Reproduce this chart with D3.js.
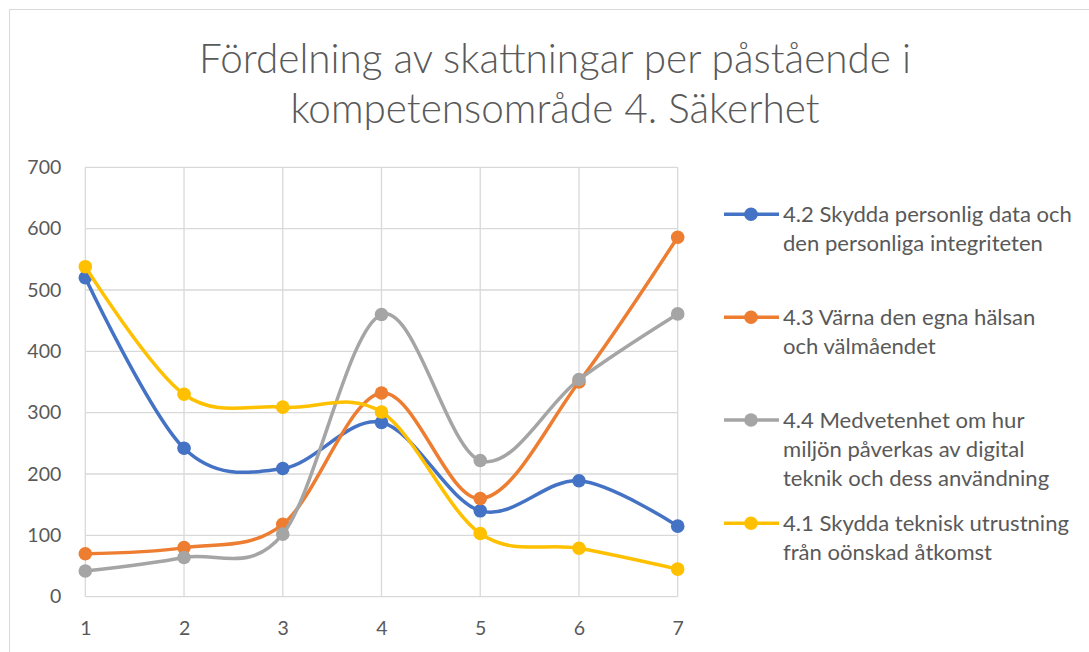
<!DOCTYPE html>
<html><head><meta charset="utf-8">
<script src="https://cdn.jsdelivr.net/npm/d3@7"></script>
<style>body{margin:0;background:#fff;} svg{display:block;}</style>
</head><body>
<script>
const categories = [1, 2, 3, 4, 5, 6, 7];
const yTicks = [0, 100, 200, 300, 400, 500, 600, 700];
const titleLines = ["Fördelning av skattningar per påstående i", "kompetensområde 4. Säkerhet"];
const seriesNames = [
  ["4.2 Skydda personlig data och", "den personliga integriteten"],
  ["4.3 Värna den egna hälsan", "och välmåendet"],
  ["4.4 Medvetenhet om hur", "miljön påverkas av digital", "teknik och dess användning"],
  ["4.1 Skydda teknisk utrustning", "från oönskad åtkomst"]
];
const s42 = [520, 242, 209, 284, 140, 189, 115];
const s43 = [70, 80, 118, 332, 160, 350, 586];
const s44 = [42, 64, 102, 460, 222, 354, 461];
const s41 = [538, 330, 309, 301, 103, 79, 45];
const seriesValues = [s42, s43, s44, s41];
const colors = ["#4472C4", "#ED7D31", "#A5A5A5", "#FFC000"];

const W = 1089, H = 652;
const svg = d3.select("body").append("svg").attr("width", W).attr("height", H);
const font = "Lato, 'Open Sans', sans-serif";

svg.append("rect").attr("x", 9.5).attr("y", 9.5).attr("width", W).attr("height", H)
  .attr("fill", "#fff").attr("stroke", "#d9d9d9").attr("stroke-width", 1);

const x = d3.scaleLinear().domain([1, 7]).range([85.3, 677.7]);
const y = d3.scaleLinear().domain([0, 700]).range([596.7, 167.3]);

// grid
const g = svg.append("g");
g.selectAll(".hg").data(yTicks).join("line")
  .attr("x1", x(1)).attr("x2", x(7)).attr("y1", d => y(d)).attr("y2", d => y(d))
  .attr("stroke", "#d9d9d9").attr("stroke-width", 1.3);
g.selectAll(".vg").data(categories).join("line")
  .attr("x1", d => x(d)).attr("x2", d => x(d)).attr("y1", y(700)).attr("y2", y(0))
  .attr("stroke", "#d9d9d9").attr("stroke-width", 1.3);

// axes
const yAxis = d3.axisLeft(y).tickValues(yTicks).tickSize(0).tickPadding(24);
svg.append("g").attr("transform", `translate(${x(1)},0)`).call(yAxis)
  .call(a => a.select(".domain").remove())
  .selectAll("text").attr("font-family", font).attr("font-size", 19.5).attr("fill", "#595959");
const xAxis = d3.axisBottom(x).tickValues(categories).tickFormat(d3.format("d")).tickSize(0).tickPadding(24);
svg.append("g").attr("transform", `translate(0,${y(0)})`).call(xAxis)
  .call(a => a.select(".domain").remove())
  .selectAll("text").attr("font-family", font).attr("font-size", 19.5).attr("fill", "#595959");

// lines
const line = d3.line().x((d, i) => x(categories[i])).y(d => y(d)).curve(d3.curveCatmullRom.alpha(0));
seriesValues.forEach((vals, si) => {
  svg.append("path").attr("d", line(vals)).attr("fill", "none")
    .attr("stroke", colors[si]).attr("stroke-width", 3.5).attr("stroke-linecap", "round");
  svg.append("g").selectAll("circle").data(vals).join("circle")
    .attr("cx", (d, i) => x(categories[i])).attr("cy", d => y(d)).attr("r", 6.8)
    .attr("fill", colors[si]);
});

// title
const t = svg.append("g");
const tl = t.selectAll("text").data(titleLines).join("text")
  .attr("x", 555).attr("y", (d, i) => 73 + i * 50).attr("text-anchor", "middle")
  .attr("font-family", font).attr("font-weight", 300).attr("font-size", 36)
  .attr("fill", "#595959").text(d => d);
{
  const w = tl.nodes()[0].getComputedTextLength();
  const fs = 36 * 712 / w;
  tl.attr("font-size", fs);
}

// legend
const legendY = [214.3, 317.3, 420, 523.3];
const lg = svg.append("g");
seriesNames.forEach((lines, si) => {
  const gy = legendY[si];
  lg.append("line").attr("x1", 724).attr("x2", 779).attr("y1", gy).attr("y2", gy)
    .attr("stroke", colors[si]).attr("stroke-width", 3.5);
  lg.append("circle").attr("cx", 751).attr("cy", gy).attr("r", 6.8).attr("fill", colors[si]);
  lg.selectAll(null).data(lines).join("text").attr("class", "lt")
    .attr("x", 783).attr("y", (d, i) => gy + i * 29).attr("dy", "0.35em")
    .attr("font-family", font).attr("font-size", 19).attr("fill", "#595959").text(d => d);
});
{
  const first = lg.select("text.lt").node();
  const w = first.getComputedTextLength();
  const fs = 19 * 289 / w;
  lg.selectAll("text.lt").attr("font-size", fs);
}
</script>
</body></html>
